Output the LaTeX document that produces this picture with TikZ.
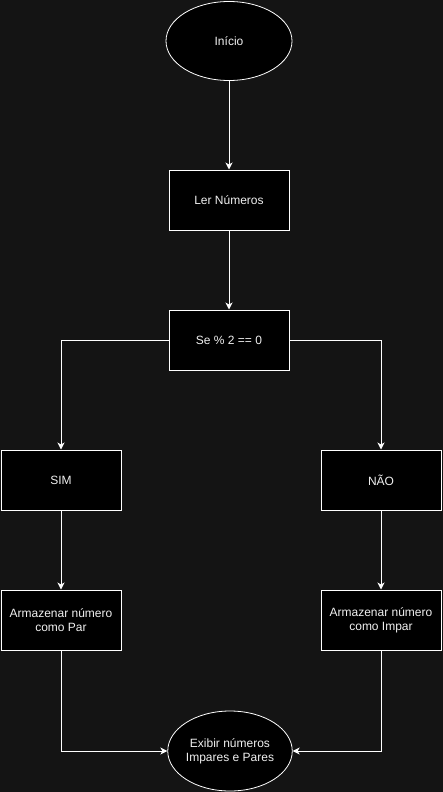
\documentclass[tikz,border=0pt]{standalone}
\usepackage{fontspec}
\setmainfont{Liberation Sans}
\usetikzlibrary{shapes.geometric,arrows.meta}
\definecolor{bg}{HTML}{141414}
\definecolor{txt}{HTML}{F0F0F0}
\begin{document}
\begin{tikzpicture}[x=1pt,y=-1pt,
  box/.style={draw=white,fill=black,line width=1pt,minimum width=120pt,minimum height=60pt,inner sep=0pt,text=txt,font=\fontsize{12}{14}\selectfont,align=center},
  oval/.style={ellipse,draw=white,fill=black,line width=0.8pt,minimum width=126pt,minimum height=79pt,inner sep=0pt,text=txt,font=\fontsize{12}{14}\selectfont,align=center},
  conn/.style={draw=white,line width=1pt,-{Stealth[length=7pt,width=7pt,inset=2pt]}}]
\fill[bg] (0,0) rectangle (443,792);
\useasboundingbox (0,0) rectangle (443,792);
\node[oval] (ini) at (229,41) {Início};
\node[box] (ler) at (229,200) {Ler Números};
\node[box] (se) at (229,340) {Se \% 2 == 0};
\node[box] (sim) at (61,480) {SIM};
\node[box] (nao) at (381,480) {NÃO};
\node[box] (par) at (61,620) {Armazenar número\\como Par};
\node[box] (imp) at (381,620) {Armazenar número\\como Impar};
\node[oval,minimum width=124pt,minimum height=80pt] (exi) at (230,751) {Exibir números\\Impares e Pares};
\draw[conn] (ini) -- (ler);
\draw[conn] (ler) -- (se);
\draw[conn] (se.west) -| (sim.north);
\draw[conn] (se.east) -| (nao.north);
\draw[conn] (sim) -- (par);
\draw[conn] (nao) -- (imp);
\draw[conn] (par.south) |- (exi.west);
\draw[conn] (imp.south) |- (exi.east);
\end{tikzpicture}
\end{document}
